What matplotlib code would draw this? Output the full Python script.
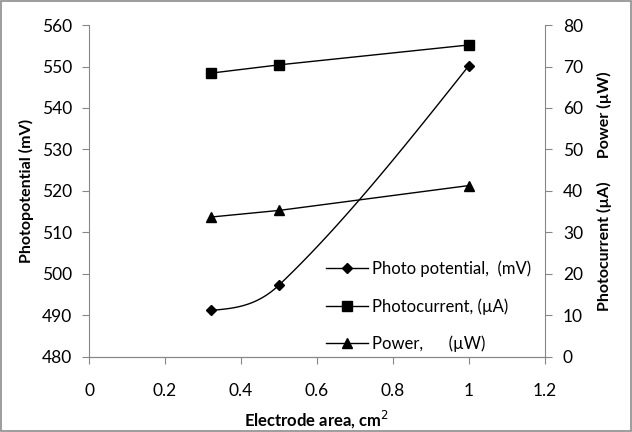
import numpy as np
import matplotlib
matplotlib.use("Agg")
import matplotlib.pyplot as plt
from matplotlib.patches import Rectangle

plt.rcParams['font.family'] = ['Lato', 'DejaVu Sans']

area = [0.32, 0.5, 1.0]
potential = [491.2, 497.3, 550.2]
current = [68.4, 70.4, 75.2]
power = [33.7, 35.3, 41.3]
x_ticks = [0, 0.2, 0.4, 0.6, 0.8, 1, 1.2]
left_ticks = [480, 490, 500, 510, 520, 530, 540, 550, 560]
right_ticks = [0, 10, 20, 30, 40, 50, 60, 70, 80]


def smooth(x, y, n=40):
    # cubic Hermite smoothing through the points (like a "smoothed line")
    x = np.asarray(x, float); y = np.asarray(y, float)
    m = len(x)
    h = np.diff(x)
    s = np.diff(y) / h
    d = np.zeros(m)
    for i in range(1, m - 1):
        d[i] = (y[i + 1] - y[i - 1]) / (x[i + 1] - x[i - 1])
    d[0] = (3 * s[0] - d[1]) / 2
    d[-1] = (3 * s[-1] - d[-2]) / 2
    xs, ys = [], []
    for i in range(m - 1):
        t = np.linspace(0, 1, n)
        h00 = 2 * t**3 - 3 * t**2 + 1
        h10 = t**3 - 2 * t**2 + t
        h01 = -2 * t**3 + 3 * t**2
        h11 = t**3 - t**2
        yy = h00 * y[i] + h10 * h[i] * d[i] + h01 * y[i + 1] + h11 * h[i] * d[i + 1]
        xx = x[i] + t * h[i]
        if i > 0:
            xx, yy = xx[1:], yy[1:]
        xs.append(xx); ys.append(yy)
    return np.concatenate(xs), np.concatenate(ys)


fig = plt.figure(figsize=(6.32, 4.32), dpi=100)
ax = fig.add_axes([0.141, 0.174, 0.721, 0.768])
ax2 = ax.twinx()

sx, sy = smooth(area, potential)
ax.plot(sx, sy, color='black', lw=1.0)
ax.plot(area, potential, linestyle='none', marker='D', color='black', ms=5)
ln1, = ax.plot([], [], color='black', lw=1.0, marker='D', ms=5)

ln2, = ax2.plot(area, current, color='black', lw=1.0, marker='s', ms=6.5)
ln3, = ax2.plot(area, power, color='black', lw=1.0, marker='^', ms=6.5)

ax.set_xlim(0, 1.2)
ax.set_ylim(480, 560)
ax2.set_ylim(0, 80)
ax.set_xticks(x_ticks)
ax.set_xticklabels([f"{v:g}" for v in x_ticks])
ax.set_yticks(left_ticks)
ax2.set_yticks(right_ticks)

for a in (ax, ax2):
    for s in a.spines.values():
        s.set_color('#878787')
    a.spines['top'].set_visible(False)
    a.tick_params(axis='both', colors='#878787', labelcolor='black', labelsize=12.5,
                  length=5, direction='out')
ax.tick_params(axis='x', pad=14)
ax.tick_params(axis='y', pad=7)
ax2.tick_params(axis='y', pad=8)
ax.spines['right'].set_visible(False)
ax2.spines['left'].set_visible(False)

ax.set_xlabel('Electrode area, cm$^2$', fontsize=12, fontweight='bold', labelpad=7)
ax.set_ylabel('Photopotential (mV)', fontsize=11.5, fontweight='bold', labelpad=6)
ax2.set_ylabel('Photocurrent (\u00b5A)      Power (\u00b5W)', fontsize=11.5,
               fontweight='bold', labelpad=10)

leg = ax.legend([ln1, ln2, ln3],
                ['Photo potential,  (mV)', 'Photocurrent, (\u00b5A)', 'Power,      (\u00b5W)'],
                loc='upper left', bbox_to_anchor=(0.52, 0.29), frameon=False, fontsize=12,
                handlelength=2.5, handletextpad=0.25, labelspacing=1.25,
                borderpad=0, borderaxespad=0)

fig.add_artist(Rectangle((0.002, 0.002), 0.996, 0.996, transform=fig.transFigure,
                         fill=False, edgecolor='#8c8c8c', lw=1.2))

fig.savefig('out.png', dpi=100)
